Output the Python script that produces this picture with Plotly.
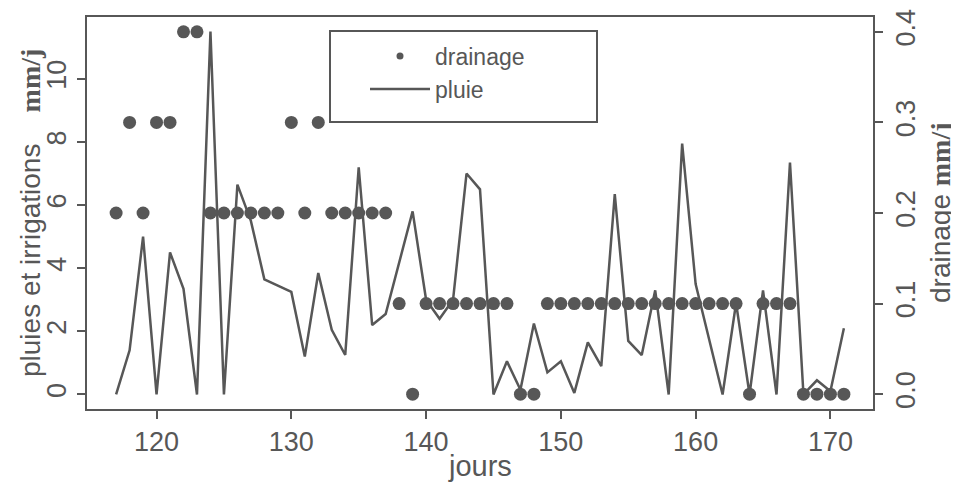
import plotly.graph_objects as go

# jours (day of year)
JOURS = list(range(117, 172))

# pluies et irrigations, mm/j (left axis)
PLUIE = [0, 1.4, 5.0, 0, 4.5, 3.35, 0, 11.5, 0, 6.65,
         5.5, 3.65, 3.45, 3.25, 1.2, 3.85, 2.05, 1.25, 7.2, 2.2,
         2.55, 4.15, 5.8, 3.0, 2.4, 3.0, 7.0, 6.5, 0, 1.05,
         0.15, 2.25, 0.7, 1.05, 0.05, 1.65, 0.9, 6.35, 1.7, 1.25,
         3.3, 0, 7.95, 3.5, 1.75, 0, 2.9, 0, 3.3, 0,
         7.35, 0, 0.45, 0.1, 2.1]

# drainage, mm/j (right axis)
DRAINAGE = [0.2, 0.3, 0.2, 0.3, 0.3, 0.4, 0.4, 0.2, 0.2, 0.2,
            0.2, 0.2, 0.2, 0.3, 0.2, 0.3, 0.2, 0.2, 0.2, 0.2,
            0.2, 0.1, 0.0, 0.1, 0.1, 0.1, 0.1, 0.1, 0.1, 0.1,
            0.0, 0.0, 0.1, 0.1, 0.1, 0.1, 0.1, 0.1, 0.1, 0.1,
            0.1, 0.1, 0.1, 0.1, 0.1, 0.1, 0.1, 0.0, 0.1, 0.1,
            0.1, 0.0, 0.0, 0.0, 0.0]

X_TICKS = [120, 130, 140, 150, 160, 170]
Y_TICKS = [0, 2, 4, 6, 8, 10]
Y2_TICKS = [0.0, 0.1, 0.2, 0.3, 0.4]

GREY = '#575757'
SANS = 'Liberation Sans, Arial, sans-serif'
SERIF = 'Liberation Serif, Times New Roman, serif'

# the page body adds 8px on the left/top, so the figure is 8px smaller
# plot area on screen: x 87..873, y 17..409
PW, PH = 786, 392

fig = go.Figure()

# legend-only entry so the legend dot stays small
fig.add_trace(go.Scatter(
    x=[None], y=[None], mode='markers', name='drainage',
    marker=dict(color=GREY, size=7), yaxis='y2'
))
fig.add_trace(go.Scatter(
    x=JOURS, y=PLUIE, mode='lines', name='pluie',
    line=dict(color=GREY, width=2.5)
))
fig.add_trace(go.Scatter(
    x=JOURS, y=DRAINAGE, mode='markers', name='drainage',
    marker=dict(color=GREY, size=13), yaxis='y2', showlegend=False
))

axis_common = dict(
    showgrid=False, zeroline=False, showline=True, linecolor=GREY, linewidth=2,
    ticks='outside', ticklen=8, tickwidth=2, tickcolor=GREY, automargin=False,
    tickfont=dict(family=SANS, size=27, color=GREY)
)

fig.update_layout(
    width=951, height=483,
    margin=dict(l=79, r=86, t=9, b=82),
    paper_bgcolor='white', plot_bgcolor='white',
    font=dict(family=SANS, color=GREY),
    xaxis=dict(axis_common, range=[114.84, 173.16], tickvals=X_TICKS, mirror=True),
    yaxis=dict(axis_common, range=[-0.46, 11.96], tickvals=Y_TICKS, tickangle=-90),
    yaxis2=dict(axis_common, range=[-0.0164, 0.4164], tickvals=Y2_TICKS, tickformat='.1f',
                tickangle=-90, overlaying='y', side='right'),
    showlegend=True,
    legend=dict(x=(365 - 87) / PW, y=0.955, xanchor='left', yanchor='top',
                bgcolor='rgba(0,0,0,0)', borderwidth=0, itemwidth=60,
                font=dict(family=SANS, size=23, color=GREY), tracegroupgap=0),
    shapes=[dict(type='rect', xref='paper', yref='paper',
                 x0=(330 - 87) / PW, x1=(597 - 87) / PW,
                 y0=(409 - 122) / PH, y1=(409 - 31) / PH,
                 line=dict(color=GREY, width=2))],
    annotations=[
        dict(text='pluies et irrigations    <span style="font-family:' + SERIF + '"><b>mm/j</b></span>',
             xref='paper', yref='paper', x=(30 - 87) / PW, y=0.5, textangle=-90,
             xanchor='center', yanchor='middle',
             showarrow=False, font=dict(family=SANS, size=28, color=GREY)),
        dict(text='drainage <span style="font-family:' + SERIF + '"><b>mm/j</b></span>',
             xref='paper', yref='paper', x=(940 - 87) / PW, y=0.5, textangle=-90,
             xanchor='center', yanchor='middle',
             showarrow=False, font=dict(family=SANS, size=28, color=GREY)),
        dict(text='jours', xref='paper', yref='paper', x=0.5, y=(409 - 466) / PH,
             xanchor='center', yanchor='middle',
             showarrow=False, font=dict(family=SANS, size=29, color=GREY)),
    ]
)

fig.write_html('out.html')
